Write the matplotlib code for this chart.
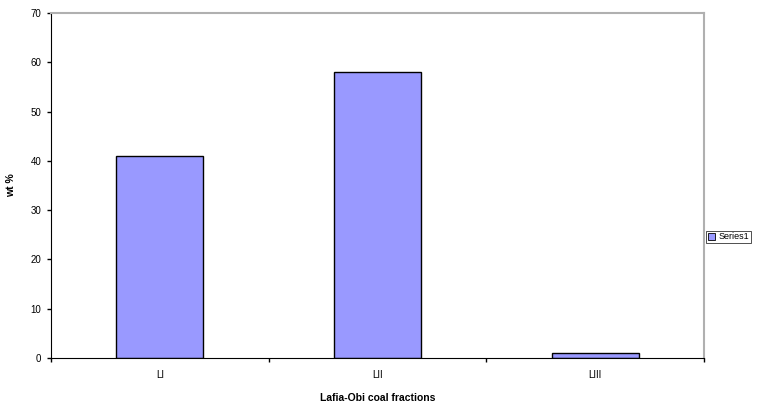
import matplotlib.pyplot as plt
from matplotlib.patches import Patch

plt.rcParams['font.family'] = ['Liberation Sans', 'DejaVu Sans']

fractions = ['LI', 'LII', 'LIII']
wt_pct = [41, 58, 1]
bar_color = '#9999ff'

fig = plt.figure(figsize=(7.62, 4.03), dpi=100)
ax = fig.add_axes([0.0669, 0.1117, 0.857, 0.856])

ax.bar(range(len(fractions)), wt_pct, width=0.4, color=bar_color,
       edgecolor='black', linewidth=1)

ax.set_xlim(-0.5, len(fractions) - 0.5)
ax.set_ylim(0, 70)
ax.set_yticks(range(0, 71, 10))
ax.set_xticks(range(len(fractions)))
ax.set_xticklabels(fractions)
ax.set_xticks([-0.5, 0.5, 1.5, 2.5], minor=True)
ax.tick_params(axis='x', which='major', length=0, labelsize=7, pad=9)
ax.tick_params(axis='x', which='minor', length=3, width=1)
ax.tick_params(axis='y', length=3, width=1, labelsize=7, pad=4)

ax.spines['left'].set_color('black')
ax.spines['bottom'].set_color('black')
ax.spines['top'].set_color('#b0b0b0')
ax.spines['right'].set_color('#b0b0b0')
ax.spines['top'].set_linewidth(1.5)
ax.spines['right'].set_linewidth(1.5)

ax.set_xlabel('Lafia-Obi coal fractions', fontsize=7.5, fontweight='bold', labelpad=9)
ax.set_ylabel('wt %', fontsize=7.5, fontweight='bold', labelpad=10)

leg = fig.legend(handles=[Patch(facecolor=bar_color, edgecolor='black', linewidth=0.6, label='Series1')],
                 loc='center left', bbox_to_anchor=(0.927, 0.412), fontsize=6.5,
                 frameon=True, fancybox=False, handlelength=0.8, handleheight=0.8,
                 handletextpad=0.3, borderpad=0.2, borderaxespad=0)
leg.get_frame().set_edgecolor('black')
leg.get_frame().set_linewidth(0.6)

plt.savefig('out.png', dpi=100)
